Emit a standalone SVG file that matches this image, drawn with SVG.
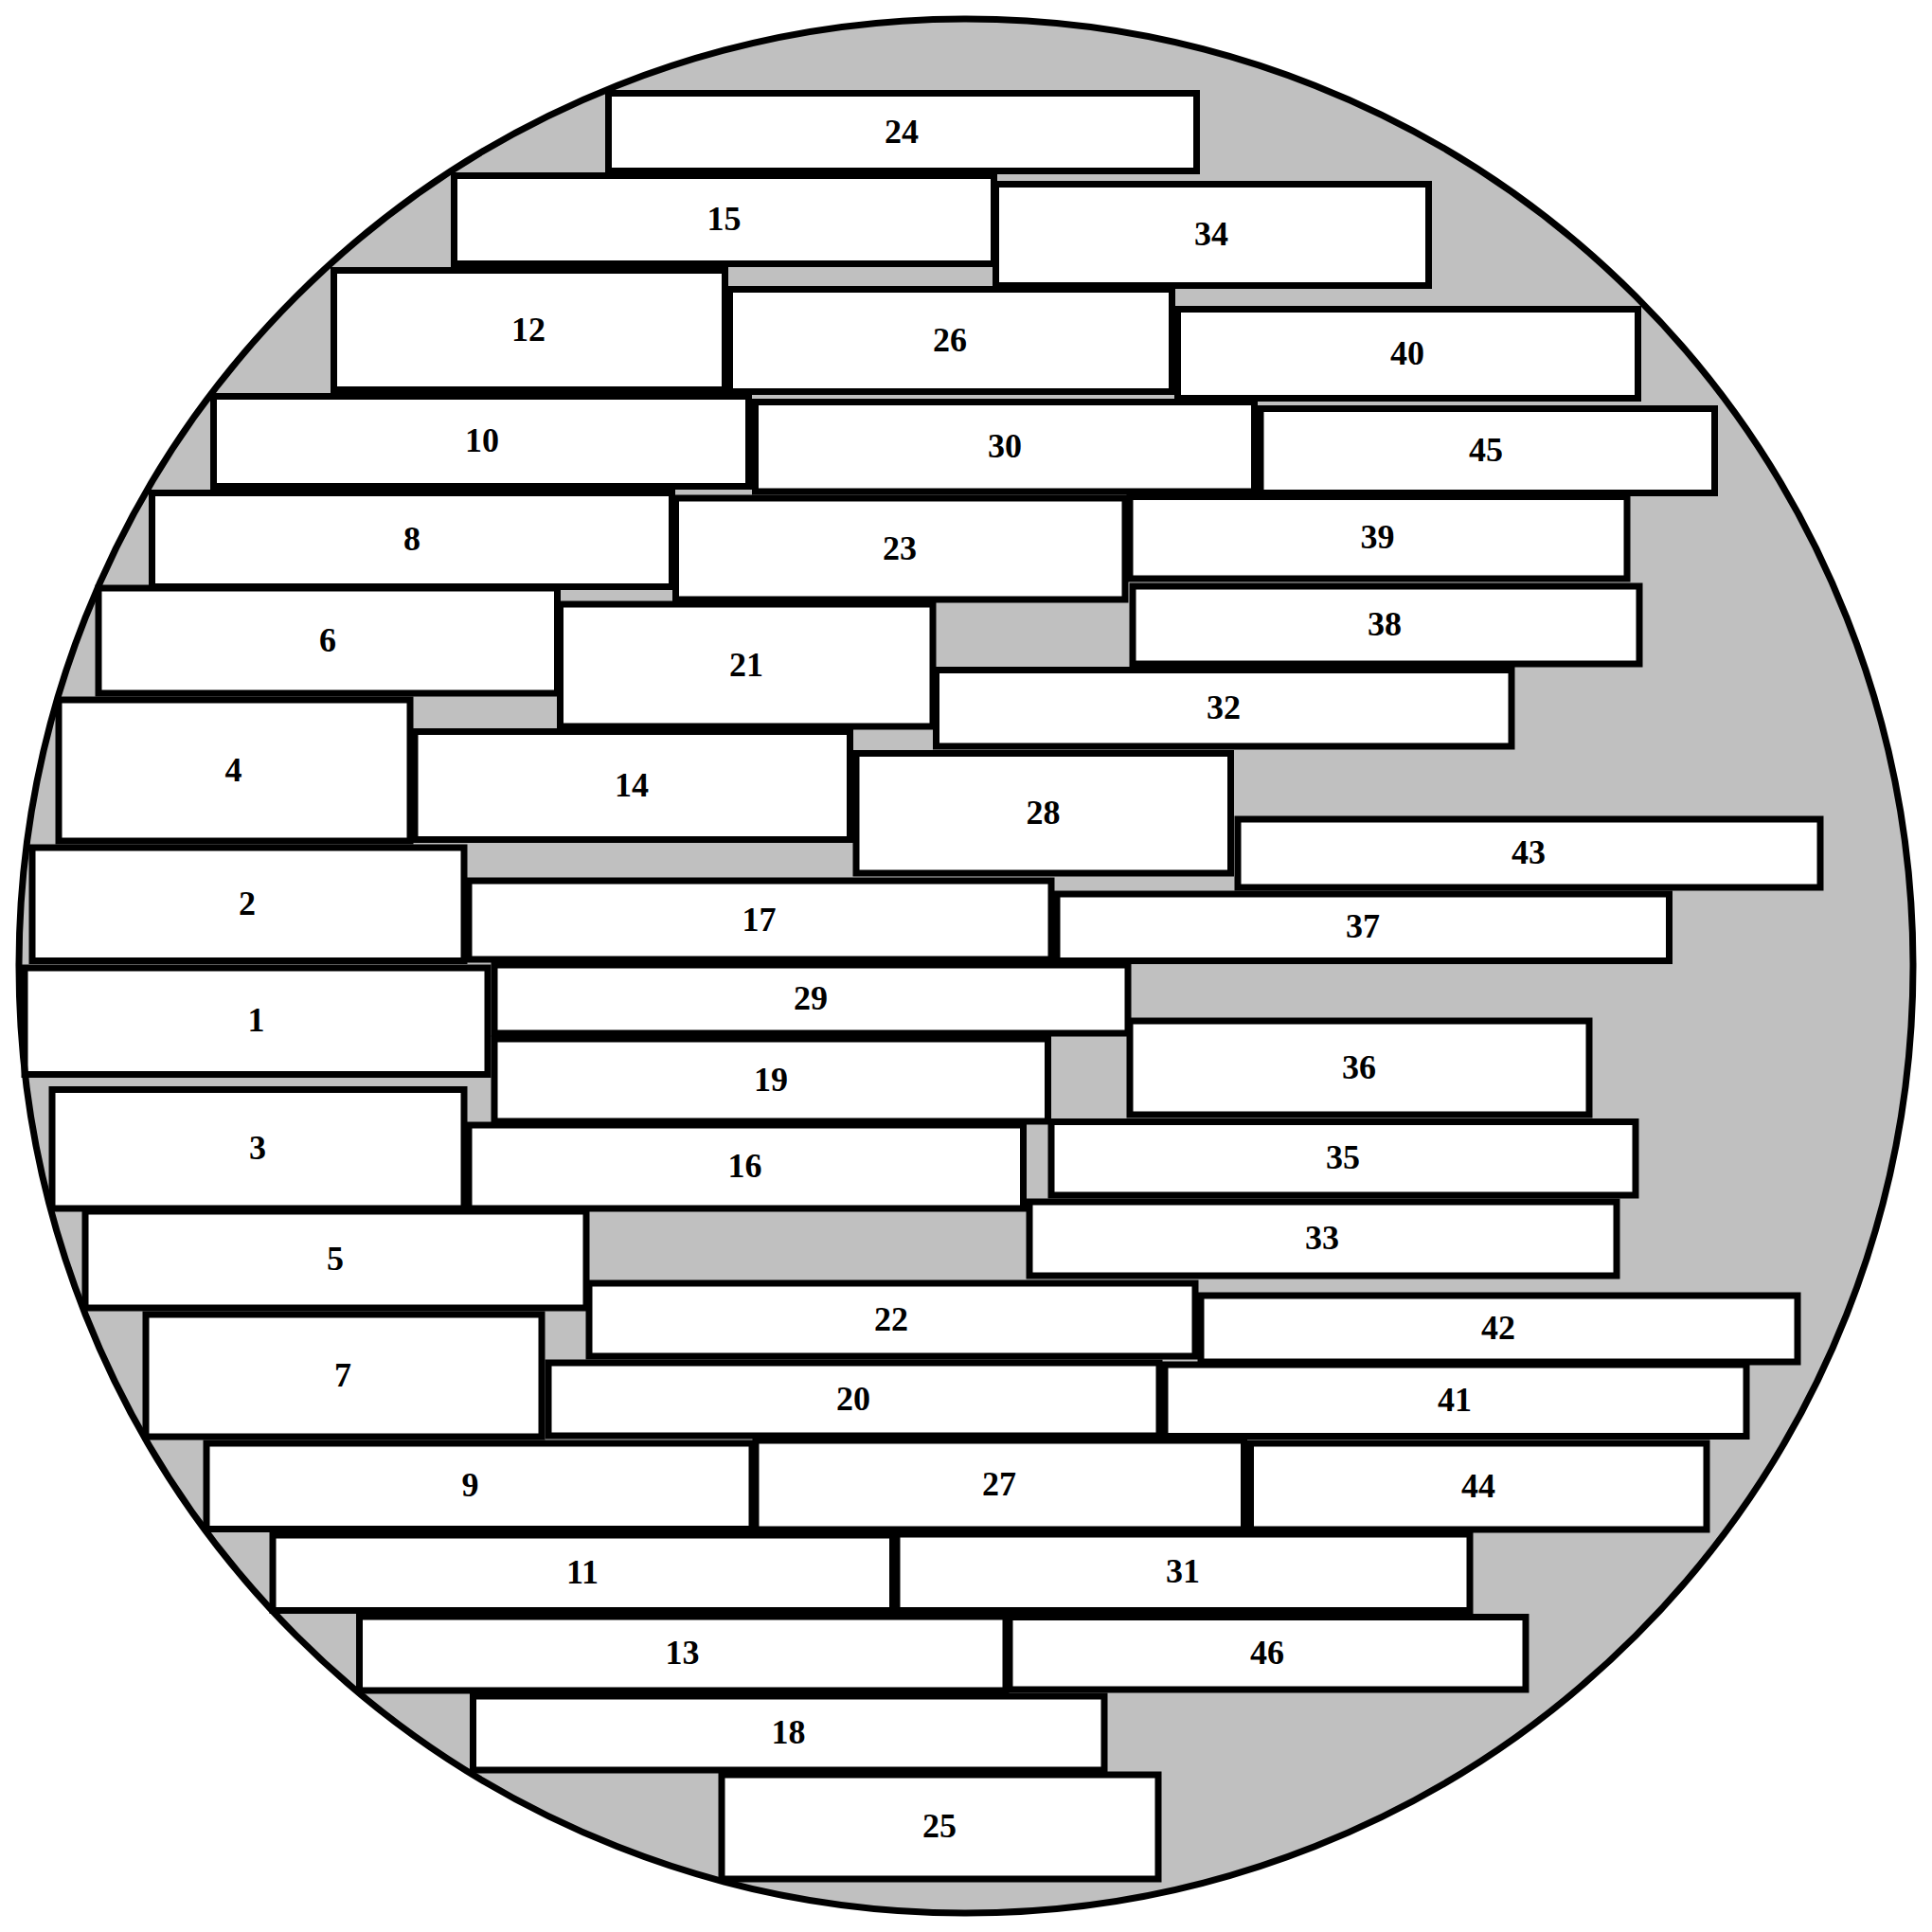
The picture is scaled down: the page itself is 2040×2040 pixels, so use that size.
<svg xmlns="http://www.w3.org/2000/svg" width="2040" height="2040" viewBox="0 0 2040 2040">
<style>
.b{fill:#fff;stroke:#000;stroke-width:7}
.t{font-family:"Liberation Serif","Times New Roman",serif;font-weight:bold;font-size:36px;text-anchor:middle;fill:#000}
</style>
<rect width="2040" height="2040" fill="#fff"/>
<circle id="disc" cx="1020" cy="1020" r="1000" fill="#c0c0c0"/>
<g id="nodes" transform="translate(0,0)">
<g id="n24"><rect class="b" x="642.5" y="98.5" width="621" height="82"/><text class="t" x="952" y="150.5">24</text></g>
<g id="n15"><rect class="b" x="479.5" y="185.5" width="570" height="93"/><text class="t" x="764.5" y="243">15</text></g>
<g id="n34"><rect class="b" x="1051.5" y="194.5" width="457" height="107"/><text class="t" x="1279" y="259">34</text></g>
<g id="n12"><rect class="b" x="352.5" y="285.5" width="413" height="126"/><text class="t" x="558" y="359.5">12</text></g>
<g id="n26"><rect class="b" x="770.5" y="305.5" width="467" height="108"/><text class="t" x="1003" y="370.5">26</text></g>
<g id="n40"><rect class="b" x="1243.5" y="326.5" width="486" height="94"/><text class="t" x="1486" y="384.5">40</text></g>
<g id="n10"><rect class="b" x="225.5" y="418.5" width="565" height="95"/><text class="t" x="509" y="477">10</text></g>
<g id="n30"><rect class="b" x="797.5" y="424.5" width="527" height="94.5"/><text class="t" x="1061" y="482.75">30</text></g>
<g id="n45"><rect class="b" x="1331" y="431.5" width="479.5" height="89"/><text class="t" x="1569" y="487">45</text></g>
<g id="n8"><rect class="b" x="160.5" y="520.5" width="549" height="99"/><text class="t" x="435" y="581">8</text></g>
<g id="n23"><rect class="b" x="713.5" y="526" width="474.5" height="107"/><text class="t" x="950" y="590.5">23</text></g>
<g id="n39"><rect class="b" x="1193" y="524.5" width="525" height="86.5"/><text class="t" x="1454.5" y="578.75">39</text></g>
<g id="n6"><rect class="b" x="104" y="621" width="484.5" height="111"/><text class="t" x="346" y="687.5">6</text></g>
<g id="n21"><rect class="b" x="591.5" y="638" width="393.5" height="129"/><text class="t" x="788" y="713.5">21</text></g>
<g id="n38"><rect class="b" x="1196" y="619" width="535" height="82"/><text class="t" x="1462" y="671">38</text></g>
<g id="n32"><rect class="b" x="988.5" y="707.5" width="607.5" height="80.5"/><text class="t" x="1292" y="758.75">32</text></g>
<g id="n4"><rect class="b" x="62" y="739" width="371" height="149"/><text class="t" x="246.5" y="824.5">4</text></g>
<g id="n14"><rect class="b" x="438" y="772.5" width="459.5" height="114"/><text class="t" x="667" y="840.5">14</text></g>
<g id="n28"><rect class="b" x="904" y="795.5" width="395.5" height="126.5"/><text class="t" x="1101.5" y="869.75">28</text></g>
<g id="n43"><rect class="b" x="1307" y="865" width="615" height="72"/><text class="t" x="1614" y="912">43</text></g>
<g id="n2"><rect class="b" x="34" y="895" width="456" height="119.5"/><text class="t" x="261" y="965.75">2</text></g>
<g id="n17"><rect class="b" x="495" y="930" width="615" height="83"/><text class="t" x="801.5" y="982.5">17</text></g>
<g id="n37"><rect class="b" x="1116" y="944" width="646.5" height="70.5"/><text class="t" x="1439" y="990.25">37</text></g>
<g id="n1"><rect class="b" x="26" y="1022" width="489" height="112.5"/><text class="t" x="270.5" y="1089.25">1</text></g>
<g id="n29"><rect class="b" x="522" y="1019" width="669" height="72"/><text class="t" x="856" y="1066">29</text></g>
<g id="n19"><rect class="b" x="522" y="1097" width="584.5" height="87"/><text class="t" x="814" y="1151.5">19</text></g>
<g id="n36"><rect class="b" x="1193" y="1078" width="485" height="99"/><text class="t" x="1435" y="1138.5">36</text></g>
<g id="n3"><rect class="b" x="55" y="1150.5" width="435" height="125.5"/><text class="t" x="272" y="1224.25">3</text></g>
<g id="n16"><rect class="b" x="495" y="1188" width="585.5" height="88"/><text class="t" x="786.5" y="1243">16</text></g>
<g id="n35"><rect class="b" x="1110" y="1184.5" width="617" height="77.5"/><text class="t" x="1418" y="1234.25">35</text></g>
<g id="n5"><rect class="b" x="90" y="1279" width="529" height="102"/><text class="t" x="354" y="1341">5</text></g>
<g id="n33"><rect class="b" x="1087" y="1269" width="620" height="78"/><text class="t" x="1396" y="1319">33</text></g>
<g id="n22"><rect class="b" x="622" y="1355" width="640" height="77"/><text class="t" x="941" y="1404.5">22</text></g>
<g id="n42"><rect class="b" x="1268" y="1368" width="630" height="70"/><text class="t" x="1582" y="1414">42</text></g>
<g id="n7"><rect class="b" x="154" y="1388" width="418" height="129"/><text class="t" x="362" y="1463.5">7</text></g>
<g id="n20"><rect class="b" x="579" y="1439" width="645" height="77"/><text class="t" x="901" y="1488.5">20</text></g>
<g id="n41"><rect class="b" x="1230" y="1441" width="614" height="75.5"/><text class="t" x="1536" y="1489.75">41</text></g>
<g id="n9"><rect class="b" x="218" y="1524" width="576" height="90.5"/><text class="t" x="496.5" y="1580.25">9</text></g>
<g id="n27"><rect class="b" x="798" y="1521" width="515.5" height="94"/><text class="t" x="1055" y="1579">27</text></g>
<g id="n44"><rect class="b" x="1320.5" y="1524" width="481.5" height="91"/><text class="t" x="1561" y="1580.5">44</text></g>
<g id="n11"><rect class="b" x="288" y="1621" width="654.5" height="79.5"/><text class="t" x="615" y="1671.75">11</text></g>
<g id="n31"><rect class="b" x="947" y="1620" width="605" height="80.5"/><text class="t" x="1249" y="1671.25">31</text></g>
<g id="n13"><rect class="b" x="379.5" y="1707" width="682.5" height="78"/><text class="t" x="720.5" y="1757">13</text></g>
<g id="n46"><rect class="b" x="1066" y="1707.5" width="545" height="76.5"/><text class="t" x="1338" y="1756.75">46</text></g>
<g id="n18"><rect class="b" x="499.5" y="1791" width="666.5" height="78"/><text class="t" x="832.5" y="1841">18</text></g>
<g id="n25"><rect class="b" x="762" y="1874" width="461" height="110"/><text class="t" x="992" y="1940">25</text></g>
</g>
<g id="connectors"></g>
<circle id="rim" cx="1020" cy="1020" r="1000" fill="none" stroke="#000" stroke-width="7"/>
</svg>
